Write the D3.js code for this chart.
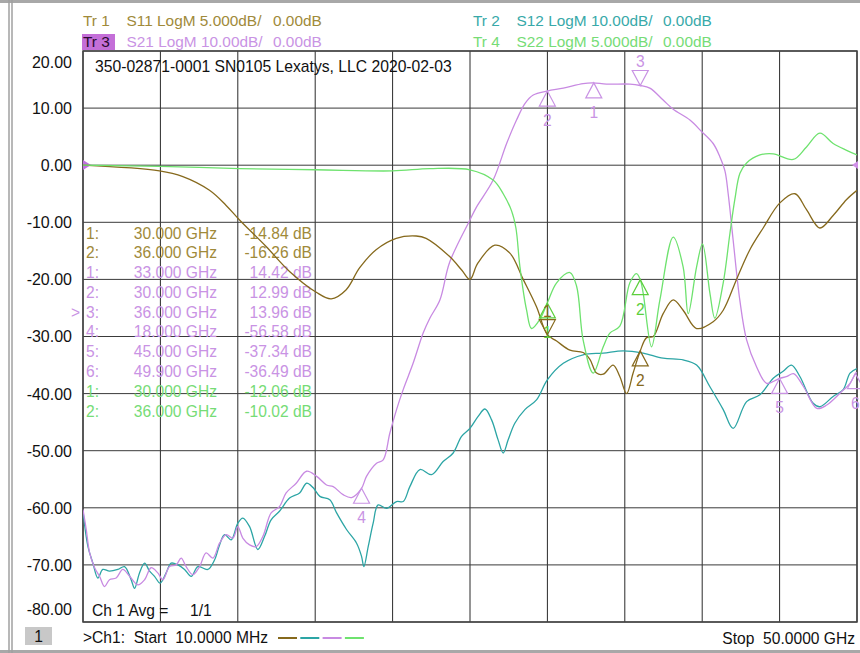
<!DOCTYPE html>
<html>
<head>
<meta charset="utf-8">
<script src="https://cdn.jsdelivr.net/npm/d3@7"></script>
<style>
  body { margin: 0; background: #fff; }
  svg { display: block; }
  text { font-family: "Liberation Sans", Arial, sans-serif; }
</style>
</head>
<body>
<div id="chart"></div>
<script>
// y tick labels (dB, 10 dB/div scale of the display)
var yTicks = [20, 10, 0, -10, -20, -30, -40, -50, -60, -70, -80];

// Tr 1  S11  (5 dB/div)
var s11Freq = [0.01, 4.95, 6.46, 8.18, 9.24, 10.12, 11.82, 13.35, 15.05, 16.04, 17.01, 17.87, 18.94, 20.24, 21.53, 22.17, 23.69, 24.48, 25.0, 25.5, 26.61, 27.58, 28.44, 29.30, 30.0, 30.6, 31.46, 32.31, 32.75, 33.18, 33.61, 34.25, 34.68, 35.12, 35.54, 36.0, 36.41, 36.84, 37.48, 38.13, 38.77, 39.64, 40.71, 41.36, 42.22, 43.08, 43.94, 45.02, 45.99, 46.74, 47.60, 48.46, 49.33, 50.0];
var s11Db   = [0, -0.5, -1.0, -2.2, -3.5, -4.8, -7.1, -9.3, -11.1, -11.7, -10.9, -9.0, -7.4, -6.4, -6.2, -6.4, -8.0, -9.2, -10.0, -8.6, -7.0, -7.7, -10.0, -12.4, -14.84, -15.4, -16.2, -16.4, -17.0, -18.2, -18.3, -17.5, -18.5, -20.0, -18.2, -16.26, -15.1, -15.0, -13.0, -11.8, -12.7, -14.3, -13.7, -12.7, -10.0, -7.4, -5.5, -3.3, -2.5, -3.9, -5.5, -4.4, -3.0, -2.2];

// Tr 2  S12  (10 dB/div)
var s12Freq = [0.01, 0.33, 0.65, 0.97, 1.29, 1.72, 2.26, 2.69, 3.12, 3.34, 3.66, 3.99, 4.31, 4.63, 4.99, 5.38, 5.70, 6.14, 6.57, 7.0, 7.43, 8.07, 8.51, 8.83, 9.15, 9.58, 10.01, 10.33, 10.77, 11.30, 11.74, 12.16, 12.70, 13.35, 14.0, 14.45, 14.88, 15.31, 15.95, 16.39, 17.03, 17.68, 18.0, 18.15, 18.43, 18.75, 19.07, 19.62, 20.26, 20.69, 21.12, 21.77, 22.52, 23.27, 23.92, 24.46, 25.0, 25.53, 25.97, 26.40, 26.82, 27.15, 27.47, 27.90, 28.55, 29.30, 30.0, 31.03, 32.31, 33.61, 34.90, 36.19, 37.48, 38.77, 39.64, 40.5, 41.36, 42.0, 42.87, 43.73, 44.59, 45.23, 45.77, 46.31, 47.17, 47.60, 48.46, 49.11, 49.55, 50.0];
var s12Db   = [-60.6, -66.8, -69.7, -72.3, -70.8, -71.1, -70.8, -70.3, -72.6, -74.1, -71.4, -69.7, -71.1, -72.0, -73.2, -71.4, -69.7, -70.0, -70.8, -72.0, -70.3, -70.8, -69.1, -66.5, -64.7, -65.6, -62.7, -61.8, -63.3, -67.3, -65.0, -62.1, -60.6, -58.3, -57.4, -55.7, -56.5, -58.0, -58.6, -60.9, -63.8, -66.2, -68.5, -70.3, -66.8, -62.7, -59.5, -60.1, -58.9, -58.9, -56.3, -53.3, -54.2, -51.9, -50.4, -47.5, -46.1, -44.0, -42.7, -44.6, -48.1, -50.4, -48.1, -45.2, -42.8, -41.1, -37.6, -34.7, -33.2, -32.9, -32.5, -32.9, -33.8, -34.1, -35.0, -38.8, -42.8, -46.1, -41.4, -40.2, -37.3, -36.1, -35.0, -37.0, -41.7, -42.3, -40.5, -39.3, -36.4, -35.6];

// Tr 3  S21  (10 dB/div)
var s21Freq = [0.01, 0.22, 0.44, 0.76, 1.08, 1.40, 1.72, 2.15, 2.58, 3.02, 3.55, 3.99, 4.41, 4.84, 5.17, 5.60, 6.03, 6.35, 6.67, 7.10, 7.54, 7.96, 8.40, 8.83, 9.26, 9.69, 10.01, 10.33, 10.77, 11.19, 11.63, 12.16, 12.70, 13.13, 13.78, 14.45, 15.10, 15.74, 16.17, 16.81, 17.36, 18.0, 18.32, 18.97, 19.40, 19.83, 20.26, 20.69, 21.33, 21.98, 22.41, 23.06, 23.69, 25.0, 25.43, 26.5, 27.37, 28.01, 28.55, 29.09, 30.0, 31.03, 32.31, 32.96, 33.82, 35.33, 36.0, 36.62, 37.48, 38.13, 39.21, 39.96, 40.71, 41.14, 41.47, 41.68, 42.0, 42.43, 42.87, 43.51, 44.16, 44.80, 45.0, 45.48, 45.9, 46.55, 47.41, 48.05, 48.91, 49.55, 49.9, 50.0];
var s21Db   = [-60.3, -63.8, -67.9, -70.5, -72.0, -73.8, -72.6, -72.3, -70.8, -72.0, -73.5, -72.6, -70.5, -71.4, -72.6, -70.3, -70.0, -68.8, -70.3, -71.7, -70.3, -67.9, -68.8, -66.2, -64.7, -65.3, -63.3, -65.3, -66.5, -66.8, -65.0, -60.9, -59.8, -57.4, -55.7, -53.6, -54.5, -56.0, -56.3, -57.7, -58.2, -56.58, -54.5, -52.2, -51.6, -46.9, -42.8, -39.3, -34.7, -29.4, -26.8, -23.6, -17.0, -9.6, -7.3, -2.6, 3.8, 7.9, 10.8, 12.3, 12.99, 13.5, 14.3, 14.42, 14.2, 14.2, 13.96, 13.5, 11.4, 9.8, 7.9, 5.9, 3.8, 1.5, -1.0, -5.0, -13.1, -23.6, -30.6, -35.3, -38.2, -37.6, -37.34, -37.0, -36.5, -38.8, -42.6, -42.0, -39.9, -38.2, -36.49, -36.3];

// Tr 4  S22  (5 dB/div)
var s22Freq = [0.01, 4.97, 10.12, 15.05, 20.0, 22.41, 25.0, 26.5, 27.15, 27.69, 27.97, 28.23, 28.66, 28.98, 29.52, 30.0, 30.6, 31.46, 31.89, 32.31, 32.96, 33.61, 34.04, 34.68, 35.33, 35.76, 36.0, 36.19, 36.73, 37.27, 38.13, 38.77, 39.1, 39.64, 40.02, 40.5, 40.82, 41.36, 41.79, 42.11, 42.44, 42.87, 43.73, 44.59, 45.88, 46.74, 47.60, 48.46, 49.33, 50.0];
var s22Db   = [0, -0.1, -0.3, -0.4, -0.5, -0.3, -0.4, -1.3, -2.5, -4.0, -5.5, -8.9, -12.7, -14.3, -13.5, -12.06, -10.3, -9.4, -10.6, -15.3, -18.2, -15.9, -14.7, -14.1, -10.3, -9.5, -10.02, -11.2, -15.9, -11.8, -6.3, -8.9, -13.0, -8.9, -6.9, -11.2, -13.4, -10.3, -6.0, -3.0, -0.7, 0.2, 0.9, 1.0, 0.5, 1.6, 2.8, 1.9, 1.3, 0.9];

// markers
var s11MkNum = [1, 2];
var s11MkFreq = [30, 36];
var s11MkDb = [-14.84, -16.26];
var s21MkNum = [1, 2, 3, 4, 5, 6];
var s21MkFreq = [33, 30, 36, 18, 45, 49.9];
var s21MkDb = [14.42, 12.99, 13.96, -56.58, -37.34, -36.49];
var s22MkNum = [1, 2];
var s22MkFreq = [30, 36];
var s22MkDb = [-12.06, -10.02];

var svgWidth = 860, svgHeight = 653;
var plot = { left: 83, right: 857, top: 51, bottom: 622 };

// plain hyphen for negative numbers, as on the instrument screen
var fmt = d3.formatLocale({ decimal: ".", thousands: ",", grouping: [3], currency: ["", ""], minus: "-" }).format;

var svg = d3.select("#chart").append("svg")
  .attr("width", svgWidth)
  .attr("height", svgHeight);

var x = d3.scaleLinear().domain([0.01, 50]).range([plot.left, plot.right]);
var y10 = d3.scaleLinear().domain([-80, 20]).range([plot.bottom, plot.top]);
var y5 = d3.scaleLinear().domain([-40, 10]).range([plot.bottom, plot.top]);

var col = {
  s11: "#86691c", s11t: "#a08a3a",
  s12: "#2ca5a5", s12t: "#38a9a9",
  s21: "#c88ae2", s21t: "#c993e4",
  s22: "#6ee26e", s22t: "#76dc76"
};

// window frame
svg.append("rect").attr("x", 0).attr("y", 0).attr("width", svgWidth).attr("height", 3).attr("fill", "#a8a8a8");
svg.append("rect").attr("x", 0).attr("y", 650).attr("width", svgWidth).attr("height", 3).attr("fill", "#a8a8a8");
svg.append("line").attr("x1", 9).attr("x2", 9).attr("y1", 0).attr("y2", svgHeight).attr("stroke", "#a0a0a0").attr("stroke-width", 1.5);
svg.append("line").attr("x1", 12).attr("x2", 12).attr("y1", 0).attr("y2", svgHeight).attr("stroke", "#a0a0a0").attr("stroke-width", 1.5);

// grid
var xGrid = d3.range(11).map(i => 0.01 + i * 49.99 / 10);
svg.append("g").selectAll("line").data(xGrid).enter().append("line")
  .attr("x1", d => x(d)).attr("x2", d => x(d))
  .attr("y1", plot.top).attr("y2", plot.bottom)
  .attr("stroke", "#2a2a2a").attr("stroke-width", 1);
svg.append("g").selectAll("line").data(yTicks).enter().append("line")
  .attr("x1", plot.left).attr("x2", plot.right)
  .attr("y1", d => y10(d)).attr("y2", d => y10(d))
  .attr("stroke", "#3a3a3a").attr("stroke-width", 1);
svg.append("rect")
  .attr("x", plot.left).attr("y", plot.top)
  .attr("width", plot.right - plot.left).attr("height", plot.bottom - plot.top)
  .attr("fill", "none").attr("stroke", "#444").attr("stroke-width", 1.5);

// y axis labels
var yAxis = svg.append("g")
  .attr("transform", `translate(72,0)`)
  .call(d3.axisLeft(y10).tickValues(yTicks).tickFormat(fmt(".2f")).tickSize(0).tickPadding(0));
yAxis.select(".domain").remove();
yAxis.selectAll("text")
  .attr("font-size", "16px").attr("fill", "#111")
  .attr("font-family", '"Liberation Sans", Arial, sans-serif')
  .attr("dy", d => d === 20 ? "1.05em" : d === -80 ? "-0.5em" : "0.34em");

// reference position arrows
svg.append("path").attr("d", "M83,160 L91,165 L83,170 Z").attr("fill", "#c070e0");
svg.append("path").attr("d", "M858,161 L852,165 L858,169 Z").attr("fill", "#d090e8");

// title
svg.append("text").attr("x", 95).attr("y", 72)
  .attr("font-size", "15.7px").attr("fill", "#111")
  .text("350-02871-0001 SN0105 Lexatys, LLC 2020-02-03");

// marker table
var rows = [];
s11MkNum.forEach((n, i) => rows.push({ n: n, f: s11MkFreq[i], v: s11MkDb[i], c: col.s11t, act: false }));
s21MkNum.forEach((n, i) => rows.push({ n: n, f: s21MkFreq[i], v: s21MkDb[i], c: col.s21t, act: n === 3 }));
s22MkNum.forEach((n, i) => rows.push({ n: n, f: s22MkFreq[i], v: s22MkDb[i], c: col.s22t, act: false }));

var table = svg.append("g").attr("font-size", "15.6px");
rows.forEach(function(r, i) {
  var by = 238.5 + i * 19.78;
  table.append("text").attr("x", 86).attr("y", by).attr("fill", r.c).text(r.n + ":");
  table.append("text").attr("x", 217).attr("y", by).attr("fill", r.c).attr("text-anchor", "end")
    .text(fmt(".3f")(r.f) + " GHz");
  table.append("text").attr("x", 312).attr("y", by).attr("fill", r.c).attr("text-anchor", "end")
    .text(fmt(".2f")(r.v) + " dB");
  if (r.act) table.append("text").attr("x", 80).attr("y", by).attr("fill", r.c).attr("text-anchor", "end").text(">");
});

// traces
svg.append("clipPath").attr("id", "clip").append("rect")
  .attr("x", plot.left).attr("y", plot.top)
  .attr("width", plot.right - plot.left).attr("height", plot.bottom - plot.top);

function drawTrace(freq, vals, yScale, color) {
  var line = d3.line()
    .x(d => x(d[0]))
    .y(d => yScale(d[1]))
    .curve(d3.curveCatmullRom.alpha(0.5));
  svg.append("path")
    .datum(d3.zip(freq, vals))
    .attr("clip-path", "url(#clip)")
    .attr("fill", "none")
    .attr("stroke", color)
    .attr("stroke-width", 1.3)
    .attr("d", line);
}
drawTrace(s12Freq, s12Db, y10, col.s12);
drawTrace(s21Freq, s21Db, y10, col.s21);
drawTrace(s11Freq, s11Db, y5, col.s11);
drawTrace(s22Freq, s22Db, y5, col.s22);

// marker triangles
function drawMarkers(nums, freqs, vals, yScale, color, activeNum) {
  var g = svg.append("g").attr("font-size", "15.6px");
  nums.forEach(function(n, i) {
    var px = x(freqs[i]), py = yScale(vals[i]);
    if (n === activeNum) {
      g.append("path").attr("d", `M${px},${py} L${px - 8},${py - 15} L${px + 8},${py - 15} Z`)
        .attr("fill", "none").attr("stroke", color).attr("stroke-width", 1.2);
      g.append("text").attr("x", px).attr("y", py - 18).attr("text-anchor", "middle").attr("fill", color).text(n);
    } else {
      g.append("path").attr("d", `M${px},${py} L${px - 8},${py + 15} L${px + 8},${py + 15} Z`)
        .attr("fill", "none").attr("stroke", color).attr("stroke-width", 1.2);
      g.append("text").attr("x", px).attr("y", py + 35).attr("text-anchor", "middle").attr("fill", color).text(n);
    }
  });
}
drawMarkers(s21MkNum, s21MkFreq, s21MkDb, y10, col.s21t, 3);
drawMarkers(s22MkNum, s22MkFreq, s22MkDb, y5, "#5ccf3c", null);
drawMarkers(s11MkNum, s11MkFreq, s11MkDb, y5, col.s11, 1);

// header: trace label, parameter/format/scale, reference level
var headRows = [
  { x: 83, y: 26, c: col.s11t, tr: "Tr 1", p: "S11 LogM 5.000dB/", hl: false },
  { x: 83, y: 47, c: col.s21t, tr: "Tr 3", p: "S21 LogM 10.00dB/", hl: true },
  { x: 473, y: 26, c: col.s12t, tr: "Tr 2", p: "S12 LogM 10.00dB/", hl: false },
  { x: 473, y: 47, c: col.s22t, tr: "Tr 4", p: "S22 LogM 5.000dB/", hl: false }
];
var head = svg.append("g").attr("font-size", "15.4px");
headRows.forEach(function(h) {
  if (h.hl) head.append("rect").attr("x", h.x - 1).attr("y", h.y - 13).attr("width", 33).attr("height", 16).attr("fill", "#c46fd8");
  head.append("text").attr("x", h.x).attr("y", h.y).attr("fill", h.hl ? "#2a0a30" : h.c).attr("xml:space", "preserve").text(h.tr);
  head.append("text").attr("x", h.x + 43.5).attr("y", h.y).attr("fill", h.c).text(h.p);
  head.append("text").attr("x", h.x + 190).attr("y", h.y).attr("fill", h.c).text("0.00dB");
});

// footer
svg.append("rect").attr("x", 25).attr("y", 627).attr("width", 27).attr("height", 18).attr("fill", "#c8c8c8");
var foot = svg.append("g").attr("font-size", "15.6px").attr("fill", "#111");
foot.append("text").attr("x", 92).attr("y", 616).attr("xml:space", "preserve").text("Ch 1 Avg =");
foot.append("text").attr("x", 190).attr("y", 616).text("1/1");
foot.append("text").attr("x", 38.5).attr("y", 642).attr("text-anchor", "middle").text("1");
foot.append("text").attr("x", 83).attr("y", 643).attr("xml:space", "preserve").text(">Ch1:  Start  10.0000 MHz");
foot.append("text").attr("x", 855).attr("y", 644).attr("text-anchor", "end").attr("xml:space", "preserve").text("Stop  50.0000 GHz");

var dashes = [col.s11, col.s12, col.s21, col.s22];
svg.append("g").selectAll("line").data(dashes).enter().append("line")
  .attr("x1", (d, i) => 278 + i * 22.3).attr("x2", (d, i) => 297 + i * 22.3)
  .attr("y1", 638).attr("y2", 638)
  .attr("stroke", d => d).attr("stroke-width", 2);
</script>
</body>
</html>
